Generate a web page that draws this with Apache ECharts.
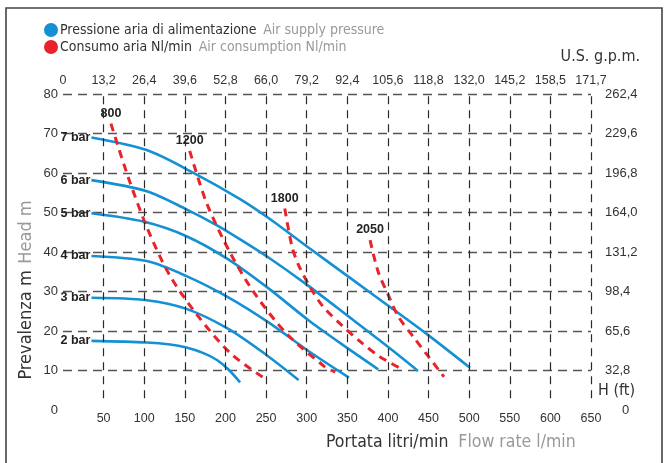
<!DOCTYPE html>
<html>
<head>
<meta charset="utf-8">
<script src="https://cdn.jsdelivr.net/npm/echarts@6.0.0/dist/echarts.min.js"></script>
<style>
  html, body { margin: 0; padding: 0; background: #fff; }
  #chart { width: 667px; height: 463px; }
</style>
</head>
<body>
<div id="chart"></div>
<script>
// flow rate (l/min) vs head (m)
const bar7 = [[35, 69], [103, 65.8], [160, 60.1], [218, 53.4], [253, 48.6], [303, 41], [353, 33.5], [403, 26], [448, 19.2], [501, 10.7]];
const bar6 = [[35, 58.2], [103, 55.4], [152, 50.8], [189, 46.8], [218, 43.2], [253, 38.6], [303, 31.3], [352, 23.6], [400, 16], [437, 9.9]];
const bar5 = [[35, 49.8], [99, 47.7], [152, 44], [203, 38.2], [253, 30.8], [303, 22.6], [352, 15.4], [388, 10.3]];
const bar4 = [[35, 39], [103, 37.7], [152, 33.9], [203, 28.6], [253, 22.2], [303, 14.8], [352, 8.2]];
const bar3 = [[35, 28.4], [103, 27.8], [152, 25.6], [203, 20.6], [250, 14], [290, 7.6]];
const bar2 = [[35, 17.5], [103, 17.1], [132, 16.6], [152, 15.8], [173, 14.4], [190, 12.6], [204, 10.2], [218, 7]];

const air800 = [[59, 72.5], [80, 59.1], [103, 46.4], [130, 34.6], [165, 24.1], [206, 14.4], [251, 7.6]];
const air1200 = [[156, 65.6], [177, 52.3], [206, 39.7], [236, 29.5], [275, 19.4], [322, 11], [335, 9.6]];
const air1800 = [[273, 51], [282, 41.3], [290, 36.7], [304, 31.2], [320, 26.2], [343, 21.5], [366, 17.3], [390, 13.5], [417, 10.4]];
const air2050 = [[378, 43], [388, 35], [400.5, 29.1], [413, 23.6], [431, 18.6], [450, 13.5], [469, 8.4]];

const pressureCurves = [["7 bar", bar7], ["6 bar", bar6], ["5 bar", bar5], ["4 bar", bar4], ["3 bar", bar3], ["2 bar", bar2]];
const airCurves = [["800", air800], ["1200", air1200], ["1800", air1800], ["2050", air2050]];

const flowTicks = [50, 100, 150, 200, 250, 300, 350, 400, 450, 500, 550, 600, 650];
const gpmLabels = ["0", "13,2", "26,4", "39,6", "52,8", "66,0", "79,2", "92,4", "105,6", "118,8", "132,0", "145,2", "158,5", "171,7"];
const feetLabels = ["0", "32,8", "65,6", "98,4", "131,2", "164,0", "196,8", "229,6", "262,4"];

const BLUE = "#1591d3";
const RED = "#e8232b";
const FONT = "Liberation Sans, Arial, sans-serif";
const NARROW = "Liberation Sans Narrow, DejaVu Sans Condensed, Roboto Condensed, Liberation Sans, sans-serif";

const chart = echarts.init(document.getElementById("chart"), null, { renderer: "canvas" });

function labelFirst(points, text, position) {
    return points.map((p, i) => {
        if (i > 0) return p;
        return {
            value: p,
            label: {
                show: true,
                position: position,
                distance: position == "left" ? 1 : 4,
                formatter: text,
                fontFamily: FONT,
                fontWeight: "bold",
                fontSize: 12.5,
                color: "#222",
            },
        };
    });
}

const series = [];

// vertical dashed grid stops a little above the flow axis, like the sheet
series.push({
    type: "line",
    data: [],
    silent: true,
    z: 1,
    markLine: {
        silent: true,
        symbol: "none",
        label: { show: false },
        lineStyle: { type: [8, 6], color: "#2a2a2a", width: 1.2 },
        data: flowTicks.map(v => [{ coord: [v, 3] }, { coord: [v, 80] }]),
    },
});

for (let [name, pts] of pressureCurves) {
    series.push({
        type: "line",
        name: name,
        data: labelFirst(pts, name, "left"),
        smooth: 0.3,
        showSymbol: true,
        showAllSymbol: true,
        symbol: "circle",
        symbolSize: 0,
        lineStyle: { color: BLUE, width: 2.6 },
        itemStyle: { color: BLUE },
        silent: true,
        z: 3,
    });
}
for (let [name, pts] of airCurves) {
    series.push({
        type: "line",
        name: name,
        data: labelFirst(pts, name, "top"),
        smooth: 0.3,
        showSymbol: true,
        showAllSymbol: true,
        symbol: "circle",
        symbolSize: 0,
        lineStyle: { color: RED, width: 3, type: [8, 6] },
        itemStyle: { color: RED },
        silent: true,
        z: 4,
    });
}

const option = {
    animation: false,
    textStyle: { fontFamily: FONT },
    grid: { left: 63, right: 76, top: 94, bottom: 53 },
    xAxis: [
        {
            type: "value", position: "bottom", min: 0, max: 650, interval: 50,
            axisLine: { show: false }, axisTick: { show: false },
            axisLabel: { showMinLabel: false, margin: 2, color: "#333", fontSize: 12.5 },
            splitLine: { show: false },
        },
        {
            type: "value", position: "top", min: 0, max: 650, interval: 50,
            axisLine: { show: false }, axisTick: { show: false },
            axisLabel: { margin: 7, color: "#333", fontSize: 12.5, formatter: (v, i) => gpmLabels[i] },
            splitLine: { show: false },
        },
    ],
    yAxis: [
        {
            type: "value", position: "left", min: 0, max: 80, interval: 10,
            axisLine: { show: false }, axisTick: { show: false },
            axisLabel: { margin: 5, color: "#333", fontSize: 13 },
            splitLine: { show: true, showMinLine: false, lineStyle: { type: [9, 6], color: "#555", width: 1.4 } },
        },
        {
            type: "value", position: "right", min: 0, max: 80, interval: 10,
            axisLine: { show: false }, axisTick: { show: false },
            axisLabel: {
                margin: 14, color: "#333", fontSize: 13, align: "left",
                formatter: (v, i) => i == 0 ? "{z|0}" : feetLabels[i],
                rich: { z: { padding: [0, 0, 0, 17], fontSize: 13, color: "#333" } },
            },
            splitLine: { show: false },
        },
    ],
    graphic: [
        { type: "rect", shape: { x: 6, y: 8, width: 656, height: 470 }, style: { fill: "none", stroke: "#444", lineWidth: 1.6 }, silent: true },
        { type: "circle", shape: { cx: 51, cy: 30, r: 7 }, style: { fill: BLUE } },
        { type: "circle", shape: { cx: 51, cy: 47, r: 7 }, style: { fill: RED } },
        {
            type: "text", x: 60, y: 30,
            style: {
                text: "{a|Pressione aria di alimentazione}  {b|Air supply pressure}",
                verticalAlign: "middle",
                rich: {
                    a: { fontFamily: NARROW, fontSize: 14, fill: "#333" },
                    b: { fontFamily: NARROW, fontSize: 14, fill: "#999" },
                },
            },
        },
        {
            type: "text", x: 60, y: 47,
            style: {
                text: "{a|Consumo aria Nl/min}  {b|Air consumption Nl/min}",
                verticalAlign: "middle",
                rich: {
                    a: { fontFamily: NARROW, fontSize: 14, fill: "#333" },
                    b: { fontFamily: NARROW, fontSize: 14, fill: "#999" },
                },
            },
        },
        {
            type: "text", x: 640, y: 57,
            style: { text: "U.S. g.p.m.", align: "right", verticalAlign: "middle", fontFamily: NARROW, fontSize: 16, fill: "#333" },
        },
        {
            type: "text", x: 598, y: 391,
            style: { text: "H (ft)", align: "left", verticalAlign: "middle", fontFamily: NARROW, fontSize: 16, fill: "#333" },
        },
        {
            type: "text", x: 326, y: 442,
            style: {
                text: "{a|Portata litri/min}   {b|Flow rate l/min}",
                verticalAlign: "middle",
                rich: {
                    a: { fontFamily: NARROW, fontSize: 17.5, fill: "#333" },
                    b: { fontFamily: NARROW, fontSize: 17.5, fill: "#999" },
                },
            },
        },
        {
            type: "text", x: 26, y: 290, rotation: Math.PI / 2,
            style: {
                text: "{a|Prevalenza m}  {b|Head m}",
                align: "center", verticalAlign: "middle",
                rich: {
                    a: { fontFamily: NARROW, fontSize: 18, fill: "#333" },
                    b: { fontFamily: NARROW, fontSize: 18, fill: "#999" },
                },
            },
        },
    ],
    series: series,
};

chart.setOption(option);
</script>
</body>
</html>
